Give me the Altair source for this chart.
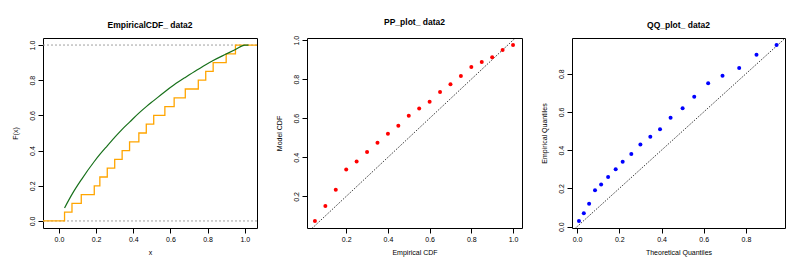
import altair as alt
import pandas as pd

# sorted sample (data2)
data2 = [0.03, 0.07, 0.12, 0.19, 0.22, 0.26, 0.30, 0.34, 0.38, 0.43,
         0.47, 0.51, 0.57, 0.62, 0.68, 0.75, 0.79, 0.83, 0.90, 0.95]
# empirical CDF levels after each jump
ecdf_levels = [0.05, 0.10, 0.15, 0.20, 0.25, 0.30, 0.35, 0.40, 0.45, 0.50,
               0.55, 0.60, 0.65, 0.70, 0.75, 0.80, 0.85, 0.90, 0.95, 1.00]
# fitted model CDF at the data points
model_cdf = [0.074, 0.151, 0.234, 0.338, 0.378, 0.427, 0.475, 0.521, 0.562, 0.613,
             0.650, 0.684, 0.735, 0.774, 0.816, 0.862, 0.888, 0.912, 0.949, 0.975]
# theoretical quantiles of the fitted model
theoretical_q = [0.009, 0.032, 0.057, 0.085, 0.114, 0.147, 0.183, 0.216, 0.257, 0.300,
                 0.347, 0.393, 0.443, 0.500, 0.555, 0.621, 0.689, 0.768, 0.850, 0.945]
# step function tails and model curve tail
step_left_x, step_right_x = -0.2, 1.2
curve_tail_x = [1.00, 1.02]
curve_tail_y = [1.00, 1.00]
ref_levels = [0.0, 1.0]
diag_vals = [-0.2, 1.2]
ticks_01 = [0.0, 0.2, 0.4, 0.6, 0.8, 1.0]
ticks_pp = [0.2, 0.4, 0.6, 0.8, 1.0]
ticks_qq = [0.0, 0.2, 0.4, 0.6, 0.8]

FONT = "Liberation Sans"
W, H = 214, 190


def xaxis(title, values):
    return alt.Axis(title=title, values=values, format=".1f", domain=False, grid=False,
                    tickColor="black", tickSize=5, tickWidth=1, labelFont=FONT,
                    labelFontSize=7, labelColor="black", labelPadding=2,
                    labelOverlap=False, labelFlush=False, titleFont=FONT,
                    titleFontSize=7, titleFontWeight="normal", titleColor="black",
                    titlePadding=6)


def yaxis(title, values):
    return alt.Axis(title=title, values=values, format=".1f", domain=False, grid=False,
                    tickColor="black", tickSize=5, tickWidth=1, labelFont=FONT,
                    labelFontSize=7, labelColor="black", labelPadding=3,
                    labelAngle=270, labelAlign="center", labelBaseline="bottom",
                    labelOverlap=False, labelFlush=False, titleFont=FONT,
                    titleFontSize=7, titleFontWeight="normal", titleColor="black",
                    titlePadding=10)


def ttl(text):
    return alt.Title(text, font=FONT, fontSize=8.5, fontWeight="bold", color="black",
                     anchor="middle", offset=9)


# ---------- Panel 1: empirical CDF ----------
step_df = pd.DataFrame({
    "x": [step_left_x] + data2 + [step_right_x],
    "y": [0.0] + ecdf_levels + [ecdf_levels[-1]],
})
curve_df = pd.DataFrame({"x": data2 + curve_tail_x, "y": model_cdf + curve_tail_y})
ref_df = pd.DataFrame({"y": ref_levels})

x1 = alt.Scale(domain=[-0.086, 1.066], nice=False, zero=False)
y1 = alt.Scale(domain=[-0.04, 1.04], nice=False, zero=False)
ax1x = xaxis("x", ticks_01)
ax1y = yaxis("F(x)", ticks_01)

ref = alt.Chart(ref_df).mark_rule(color="#a0a0a0", strokeDash=[2, 2], strokeWidth=1).encode(
    y=alt.Y("y:Q", scale=y1, axis=ax1y))
step = alt.Chart(step_df).mark_line(color="#FFA500", strokeWidth=1.3, interpolate="step-after",
                                     clip=True).encode(
    x=alt.X("x:Q", scale=x1, axis=ax1x),
    y=alt.Y("y:Q", scale=y1, axis=ax1y))
curve = alt.Chart(curve_df).mark_line(color="#17701a", strokeWidth=1.2, interpolate="monotone",
                                       clip=True).encode(
    x=alt.X("x:Q", scale=x1, axis=ax1x), y=alt.Y("y:Q", scale=y1, axis=ax1y))
p1 = alt.layer(ref, step, curve).properties(width=W, height=H, title=ttl("EmpiricalCDF_ data2"))

# ---------- Panel 2: PP plot ----------
pp_df = pd.DataFrame({"e": ecdf_levels, "m": model_cdf})
diag_df = pd.DataFrame({"x": diag_vals, "y": diag_vals})
x2 = alt.Scale(domain=[0.012, 1.043], nice=False, zero=False)
y2 = alt.Scale(domain=[0.038, 1.011], nice=False, zero=False)
ax2x = xaxis("Empirical CDF", ticks_pp)
ax2y = yaxis("Model CDF", ticks_pp)
d2 = alt.Chart(diag_df).mark_line(color="black", strokeDash=[1, 1.5], strokeWidth=1, clip=True).encode(
    x=alt.X("x:Q", scale=x2, axis=ax2x),
    y=alt.Y("y:Q", scale=y2, axis=ax2y))
pts2 = alt.Chart(pp_df).mark_circle(color="#FF0000", size=16, opacity=1).encode(
    x=alt.X("e:Q", scale=x2, axis=ax2x), y=alt.Y("m:Q", scale=y2, axis=ax2y))
p2 = alt.layer(d2, pts2).properties(width=W + 1, height=H, title=ttl("PP_plot_ data2"))

# ---------- Panel 3: QQ plot ----------
qq_df = pd.DataFrame({"t": theoretical_q, "e": data2})
x3 = alt.Scale(domain=[-0.024, 0.985], nice=False, zero=False)
y3 = alt.Scale(domain=[-0.007, 0.987], nice=False, zero=False)
ax3x = xaxis("Theoretical Quantiles", ticks_qq)
ax3y = yaxis("Empirical Quantiles", ticks_qq)
d3 = alt.Chart(diag_df).mark_line(color="black", strokeDash=[1, 1.5], strokeWidth=1, clip=True).encode(
    x=alt.X("x:Q", scale=x3, axis=ax3x),
    y=alt.Y("y:Q", scale=y3, axis=ax3y))
pts3 = alt.Chart(qq_df).mark_circle(color="#0000FF", size=16, opacity=1).encode(
    x=alt.X("t:Q", scale=x3, axis=ax3x), y=alt.Y("e:Q", scale=y3, axis=ax3y))
p3 = alt.layer(d3, pts3).properties(width=W - 1, height=H, title=ttl("QQ_plot_ data2"))

chart = alt.hconcat(p1, p2, p3, spacing=50, bounds="flush").properties(
    padding={"left": 2, "top": 9, "right": 5, "bottom": 5},
    background="white",
).configure_view(stroke="black", strokeWidth=1).configure_axis(labelOverlap=False)

chart.save("out.html", embed_options={"renderer": "svg", "actions": False})
